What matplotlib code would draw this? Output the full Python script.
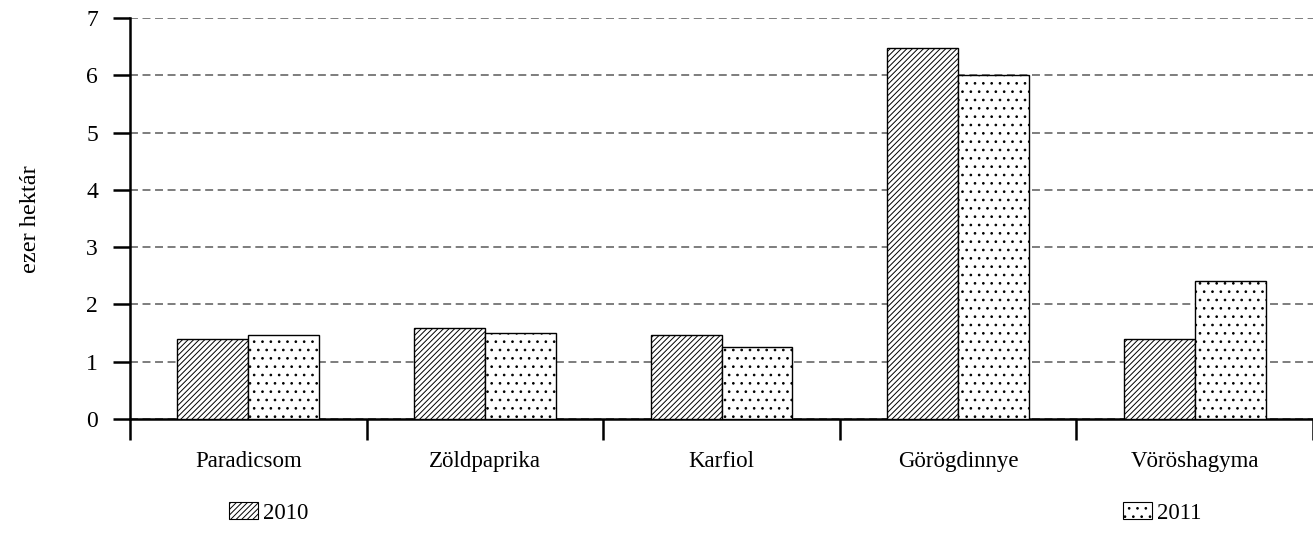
import matplotlib.pyplot as plt
import matplotlib.patches as mpatches
import numpy as np

categories = ["Paradicsom", "Zöldpaprika", "Karfiol", "Görögdinnye", "Vöröshagyma"]
values_2010 = [1.40, 1.58, 1.47, 6.47, 1.39]
values_2011 = [1.46, 1.50, 1.26, 6.00, 2.41]
series_labels = ["2010", "2011"]
y_ticks = [0, 1, 2, 3, 4, 5, 6, 7]

plt.rcParams['font.family'] = ['Liberation Serif', 'DejaVu Serif']
plt.rcParams['hatch.linewidth'] = 0.7
plt.rcParams['hatch.color'] = 'black'

fig = plt.figure(figsize=(13.13, 5.49), dpi=100)
ax = fig.add_axes([130 / 1313, 1 - 419 / 549, 1 - 130 / 1313, (419 - 18) / 549])

x = np.arange(len(categories))
w = 0.3
ax.bar(x - w / 2, values_2010, w, facecolor='white', edgecolor='black',
       linewidth=1, hatch='//////', zorder=3)
ax.bar(x + w / 2, values_2011, w, facecolor='white', edgecolor='black',
       linewidth=1, hatch='..', zorder=3)

ax.set_xlim(-0.5, len(categories) - 0.5)
ax.set_ylim(0, 7)
ax.set_yticks(y_ticks)
ax.yaxis.grid(True, linestyle=(0, (5.2, 3.0)), color='#5a5a5a', linewidth=1.1)
ax.set_axisbelow(True)

# boundaries as major ticks, names as minor ticks
ax.set_xticks(np.arange(len(categories) + 1) - 0.5)
ax.set_xticklabels([])
ax.set_xticks(x, minor=True)
ax.set_xticklabels(categories, minor=True, fontsize=16.5)
ax.tick_params(axis='x', which='major', direction='out', length=15, width=1.8)
ax.tick_params(axis='x', which='minor', length=0, pad=23)
ax.tick_params(axis='y', direction='out', length=12, width=1.8, labelsize=17, pad=11)

for s in ['top', 'right']:
    ax.spines[s].set_visible(False)
for s in ['left', 'bottom']:
    ax.spines[s].set_linewidth(1.8)

fig.text(30 / 1313, 1 - 219 / 549, "ezer hektár", rotation=90,
         ha='center', va='center', fontsize=17.5)

h1 = mpatches.Patch(facecolor='white', edgecolor='black', linewidth=0.8, hatch='//////')
h2 = mpatches.Patch(facecolor='white', edgecolor='black', linewidth=0.8, hatch='..')
for h, lab, xpos in [(h1, series_labels[0], 213), (h2, series_labels[1], 1107)]:
    fig.legend([h], [lab], loc='center left', bbox_to_anchor=(xpos / 1313, 1 - 513 / 549),
               frameon=False, fontsize=16.5, handlelength=1.25, handleheight=0.75,
               handletextpad=0.25, borderpad=0.2)

fig.savefig("out.png", dpi=100)
